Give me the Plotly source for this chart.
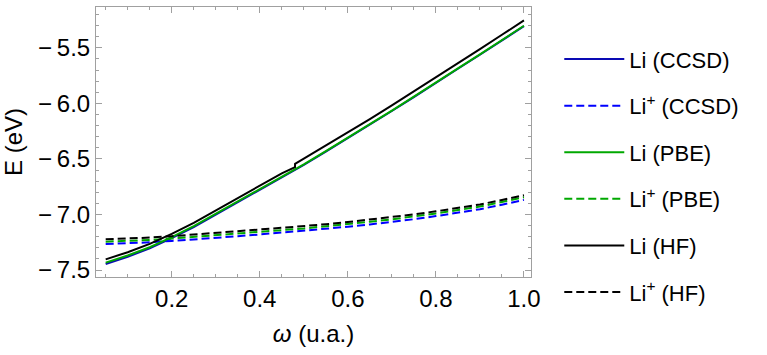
import plotly.graph_objects as go

omega = [0.05, 0.10, 0.15, 0.20, 0.25, 0.30, 0.35, 0.40, 0.45, 0.48, 0.50, 0.55,
         0.60, 0.65, 0.70, 0.75, 0.80, 0.85, 0.90, 0.95, 1.00]

li_pbe = [-7.434, -7.37, -7.295, -7.205, -7.105, -6.995, -6.88, -6.77, -6.66, -6.60,
          -6.55, -6.43, -6.31, -6.19, -6.065, -5.94, -5.81, -5.685, -5.56, -5.43, -5.302]
li_ccsd = [-7.446, -7.381, -7.305, -7.214, -7.113, -7.002, -6.887, -6.776, -6.666, -6.606,
           -6.555, -6.435, -6.314, -6.194, -6.069, -5.944, -5.814, -5.689, -5.563, -5.433, -5.305]
li_hf_x = [0.05, 0.10, 0.15, 0.20, 0.25, 0.30, 0.35, 0.40, 0.45, 0.48, 0.4801, 0.50, 0.55,
           0.60, 0.65, 0.70, 0.75, 0.80, 0.85, 0.90, 0.95, 1.00]
li_hf = [-7.404, -7.34, -7.265, -7.175, -7.075, -6.965, -6.85, -6.74, -6.63, -6.575,
         -6.545, -6.498, -6.38, -6.262, -6.142, -6.018, -5.893, -5.764, -5.638, -5.512, -5.383, -5.254]

lip_hf = [-7.224, -7.218, -7.208, -7.196, -7.182, -7.168, -7.152, -7.136, -7.120, -7.111,
          -7.105, -7.088, -7.068, -7.047, -7.025, -7.000, -6.972, -6.942, -6.910, -6.870, -6.827]
lip_pbe = [-7.245, -7.239, -7.229, -7.217, -7.203, -7.189, -7.173, -7.157, -7.141, -7.132,
           -7.126, -7.108, -7.088, -7.066, -7.044, -7.019, -6.991, -6.961, -6.929, -6.888, -6.845]
lip_ccsd = [-7.266, -7.260, -7.251, -7.239, -7.226, -7.212, -7.196, -7.180, -7.164, -7.155,
            -7.149, -7.131, -7.111, -7.090, -7.068, -7.043, -7.015, -6.985, -6.953, -6.912, -6.869]

names = ["Li (CCSD)", "Li<sup>+</sup> (CCSD)", "Li (PBE)", "Li<sup>+</sup> (PBE)",
         "Li (HF)", "Li<sup>+</sup> (HF)"]

x_ticks = [0.2, 0.4, 0.6, 0.8, 1.0]
x_ticklabels = ["0.2", "0.4", "0.6", "0.8", "1.0"]
y_ticks = [-7.5, -7.0, -6.5, -6.0, -5.5]
y_ticklabels = ["\u2212\u20097.5", "\u2212\u20097.0", "\u2212\u20096.5", "\u2212\u20096.0", "\u2212\u20095.5"]

BLUE_D = "#0a0ab4"
BLUE = "#0000ff"
GREEN = "#00a800"
BLACK = "#000000"

series = [
    (omega, li_ccsd, names[0], BLUE_D, "solid"),
    (omega, lip_ccsd, names[1], BLUE, "8px,4px"),
    (omega, li_pbe, names[2], GREEN, "solid"),
    (omega, lip_pbe, names[3], GREEN, "8px,4px"),
    (li_hf_x, li_hf, names[4], BLACK, "solid"),
    (omega, lip_hf, names[5], BLACK, "8px,4px"),
]

fig = go.Figure()
for i, (xs, ys, nm, col, dash) in enumerate(series):
    fig.add_trace(go.Scatter(
        x=xs, y=ys, name=nm, mode="lines", legendgroup=f"g{i}",
        line=dict(color=col, width=2, dash=dash),
    ))

FONT = "Liberation Sans, Arial, sans-serif"
FS = 24
fig.update_layout(
    width=767, height=355,
    margin=dict(l=96, r=236, t=7, b=78, autoexpand=False),
    paper_bgcolor="white", plot_bgcolor="white",
    font=dict(family=FONT, size=FS, color="black"),
    showlegend=True,
    legend=dict(x=1.065, y=0.505, xanchor="left", yanchor="middle", yref="container",
                tracegroupgap=15, itemwidth=60, maxheight=1,
                font=dict(size=22, family=FONT), bgcolor="rgba(0,0,0,0)"),
    xaxis=dict(
        range=[0.028, 1.016], tickvals=x_ticks, ticktext=x_ticklabels,
        showgrid=False, zeroline=False, showline=True, linecolor="#a0a0a0", linewidth=1,
        mirror="allticks", ticks="inside", ticklen=6, tickcolor="#a0a0a0",
        minor=dict(dtick=0.05, ticks="inside", ticklen=3, tickcolor="#a0a0a0"),
        tickfont=dict(size=FS), ticklabelstandoff=0,
        title=dict(text="<i>\u03c9</i> (u.a.)", font=dict(size=FS), standoff=14),
    ),
    yaxis=dict(
        range=[-7.563, -5.133], tickvals=y_ticks, ticktext=y_ticklabels,
        showgrid=False, zeroline=False, showline=True, linecolor="#a0a0a0", linewidth=1,
        mirror="allticks", ticks="inside", ticklen=6, tickcolor="#a0a0a0",
        minor=dict(dtick=0.1, ticks="inside", ticklen=3, tickcolor="#a0a0a0"),
        tickfont=dict(size=FS), ticklabelstandoff=0,
        title=dict(text="E (eV)", font=dict(size=FS), standoff=10),
    ),
)

fig.write_html("out.html")
